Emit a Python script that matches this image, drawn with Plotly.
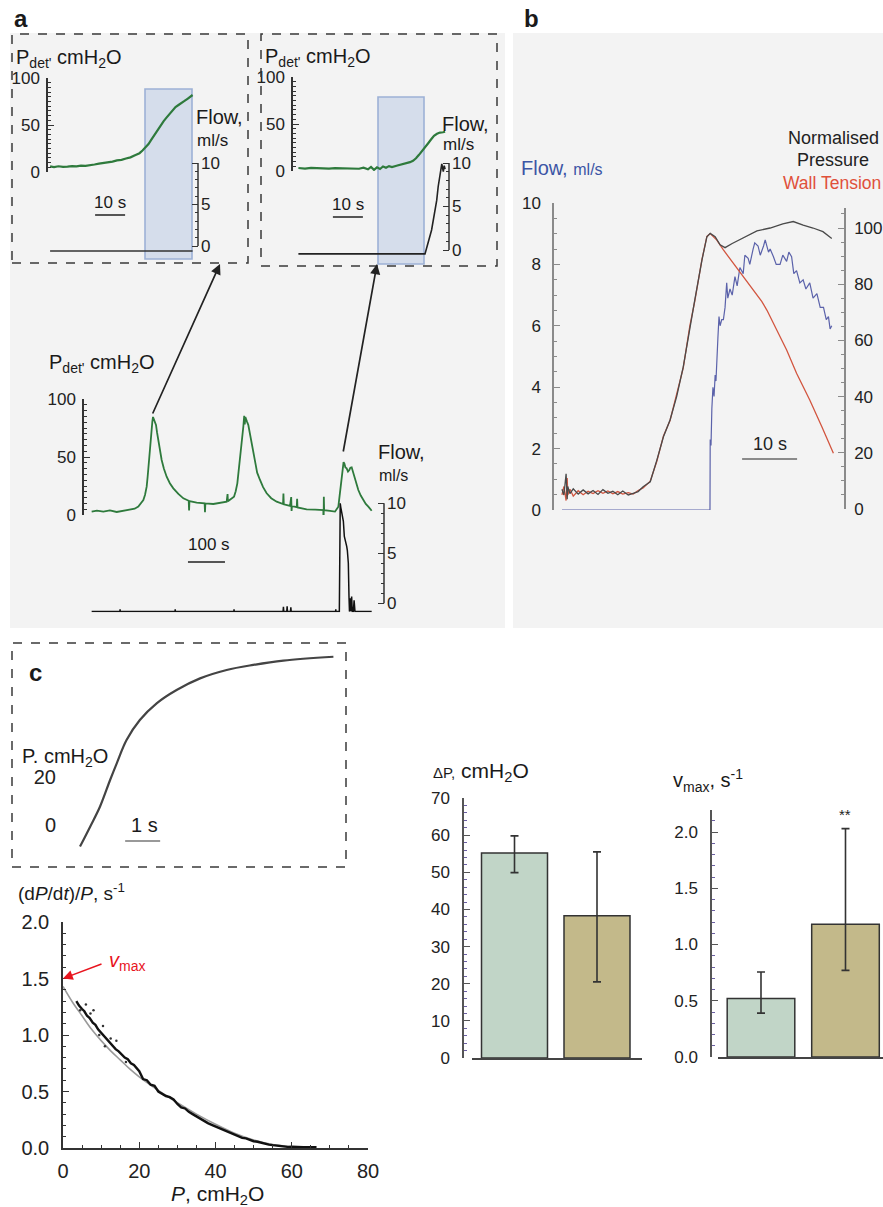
import plotly.graph_objects as go

# ======================= DATA =======================
# (a) inset 1: detrusor pressure (cmH2O) and flow (ml/s) vs time (s)
a1_time = [0.7, 2, 3.5, 5, 6.5, 8, 9.5, 11, 12.5, 14, 15.5, 17, 18.5, 20, 21.5, 23, 24.5, 26, 27.5, 29,
           30.5, 31.5, 32.5, 33.5, 34.5, 35.5, 36.5, 37.5, 38.5, 39.5, 40.5, 41.5, 42.5, 43.5, 44.5, 45.5,
           46.5, 47.5, 48.2]
a1_pdet = [5.9, 5.2, 6.1, 5.5, 5.8, 6.3, 5.9, 6.8, 6.5, 7.6, 8.0, 8.9, 9.4, 10.6, 11.0, 12.4, 12.9, 14.3,
           15.6, 17.8, 20.0, 22.8, 25.9, 29.8, 34.6, 39.5, 44.6, 49.0, 53.9, 57.8, 61.9, 65.2, 69.1, 71.3,
           73.9, 75.6, 77.9, 80.2, 81.9]
a1_flow_time = [0.7, 48.2]
a1_flow = [-0.6, -0.6]

# (a) inset 2
a2_time = [1.8, 4, 6, 8, 10, 12, 14, 16, 18, 20, 22, 23.5, 25, 26, 27, 28, 29, 30, 31, 32,
           33, 34.5, 36, 37.5, 39, 40, 41, 42, 43, 44, 45, 46, 47, 48, 49, 50, 50.7]
a2_pdet = [3.2, 2.6, 3.3, 2.9, 3.0, 2.5, 3.1, 2.8, 3.3, 2.7, 2.4, 3.6, 1.8, 4.3, 1.2, 3.9, 2.1, 4.8, 3.4, 5.2,
           4.1, 5.6, 6.9, 7.8, 9.4, 10.9, 13.5, 17.2, 21.0, 24.6, 29.3, 33.5, 37.4, 39.6, 40.9, 41.2, 41.8]
a2_flow_time = [1.8, 44, 46.2, 47.9, 48.4, 49, 49.6, 50.1, 50.4, 50.7]
a2_flow = [-0.45, -0.45, 2.3, 5.7, 7.3, 8.8, 9.9, 9.0, 9.7, 9.3]

# (a) main trace
am_time = [20.7, 35, 52.3, 70, 88.3, 105, 124.3, 137, 146.8, 154, 160.4, 165, 169.4, 172, 174.8, 177.5,
           180.2, 182.5, 184.7, 186.5, 189.2, 191.5, 194.6, 197.5, 200.9, 205, 209.9, 216, 223.4, 232,
           241.4, 255, 268.5, 283, 284, 285, 304.5, 326, 327, 328, 349.5, 368, 385.6, 388, 389, 405.4,
           410, 414.4, 419, 423.4, 427, 430.6, 433, 434.5, 436, 437.8, 440.5, 444.1, 447.5, 451.4, 456,
           462.2, 468, 475.7, 484, 493.7, 506, 520.7, 538, 539, 540, 556.8, 560, 561, 562, 575, 576, 577,
           601.8, 625, 646.8, 647.5, 648.2, 649, 665, 678.4, 687.4, 690.5, 693.7, 696.5, 699.1, 701.5,
           703.6, 706.5, 709.9, 713.5, 717.1, 720, 723.4, 726.5, 729.7, 735, 741.4, 748, 755, 761.5,
           768.5, 773, 777.5]
am_pdet = [2.9, 3.8, 3.0, 3.9, 2.6, 3.6, 4.3, 5.4, 7.2, 9.8, 12.9, 17.5, 24.4, 33, 44.5, 56,
           67.5, 75, 80.5, 84.5, 82.3, 81.5, 77.6, 71, 64.7, 55.8, 47.4, 39.8, 33, 27.4,
           23, 18.2, 14.4, 12.3, 4.0, 12.0, 10.6, 10.1, 2.5, 10.0, 9.5, 10.2, 11.5, 18, 11.8, 15.8,
           20.5, 27.3, 40, 56, 67, 76.1, 85.5, 78, 84.5, 81.9, 80.5, 77.6, 71.5, 64.7, 54.5,
           44.5, 36.5, 30.2, 24.0, 18.7, 14.5, 11.5, 9.5, 18.5, 9.2, 7.8, 15.5, 3.5, 7.6, 6.8, 14.0, 6.5,
           4.9, 4.6, 4.3, -13, 15.8, 4.2, 3.5, 2.9, 7.2, 15, 24.4, 34, 41.7, 45.5,
           44.5, 41.0, 40.2, 37.5, 38.8, 40.8, 41.1, 37.5, 33, 27.5, 21.5, 16.8, 12.9, 9.5,
           7.2, 5.2, 3.7]
am_flow_time = [20.7, 97, 97.5, 98, 246, 246.5, 247, 405, 405.5, 406, 538, 539, 540, 548, 549, 550, 558, 559,
                560, 680, 680.5, 681, 690.1, 690.6, 691.5, 692.5, 694, 696, 699.1, 701, 703.6, 706, 708.1,
                710, 711.7, 713, 714.4, 716.2, 717.5, 718.9, 720, 721, 723.4, 725, 727.9, 730, 732.4,
                736.9, 745.9, 777.5]
am_flow = [-0.83, -0.83, -0.6, -0.83, -0.83, -0.6, -0.83, -0.83, -0.6, -0.83, -0.83, -0.35, -0.83, -0.83, -0.3,
           -0.83, -0.83, -0.4, -0.83, -0.83, -0.6, -0.83, -0.83, 3.0, 3.0, 10.0, 9.6, 9.1, 8.7, 8.2, 6.7, 6.4,
           6.0, 5.7, 5.3, 4.8, 4.0, 0.67, -0.83, -0.5, 0.5, -0.8, 0.67, -0.83, -0.83, 0.3, -0.83,
           -0.83, -0.83, -0.83]

# (b) normalised pressure, wall tension (%), flow (ml/s) vs time (s)
b_time = [1.45, 1.8, 2.2, 2.4, 2.5, 2.9, 3.5, 4.4, 5.3, 6.2, 7.1, 8.0, 8.9, 9.8, 10.7, 11.6, 12.5, 13.5,
          14.4, 15.3, 16.2, 17.5, 18.7, 19.9, 21.1, 22.3, 23.5, 24.7, 25.6, 26.9, 27.8, 28.4]
b_press_rise = [7, 5, 12.5, 3.5, 8, 5.5, 7.2, 5.3, 6.8, 5.4, 6.6, 5.2, 6.9, 5.6, 6.3, 5.1, 6.4, 5.0,
                5.6, 6.2, 7.9, 9.7, 17.4, 25.7, 31.7, 40, 50.6, 64.9, 74.4, 88.6, 96.9, 98.1]
b_wall_rise = [5, 8, 3, 11, 5, 7, 4.6, 6.5, 5.1, 6.3, 5.5, 6.5, 5.6, 6.4, 5.4, 6.2, 5.3, 5.8,
               5.3, 6.6, 7.5, 9.9, 17, 26, 31.5, 40.5, 50.2, 65.2, 74, 88.8, 97, 98]
b_press_time2 = [29.3, 30.2, 31.1, 32.4, 34.4, 35.6, 36.9, 39.3, 41.6, 43.5, 45.3, 47.1, 48.9, 50.5]
b_press_fall = [96.9, 94, 93, 94.5, 96.5, 97.5, 99, 100, 101.5, 102.3, 101, 100, 98.7, 96.3]
b_wall_time2 = [29.6, 30.8, 32.6, 34.4, 36.2, 37.8, 38.7, 40.5, 42.3, 44.1, 46.5, 48.7, 50.8]
b_wall_fall = [95.7, 92.2, 87.4, 82.7, 77.9, 73.8, 70.8, 63.7, 56.6, 48.3, 38.8, 29.3, 19.8]
b_flow_time = [1.45, 28.36, 28.4, 28.55, 28.7, 28.9, 29.1, 29.3, 29.45, 29.6, 29.8, 30.0, 30.2, 30.5, 30.8,
               31.1, 31.4, 31.6, 32.0, 32.4, 32.9, 33.3, 33.8, 34.4, 34.7, 35.3, 35.6, 36.2, 36.5, 37.1,
               37.5, 38.1, 38.4, 39.0, 39.3, 39.9, 40.4, 41.1, 41.6, 42.3, 42.7, 43.2, 43.6, 44.1, 44.7,
               45.3, 45.8, 46.5, 47.1, 47.8, 48.4, 49.0, 49.5, 49.9, 50.2, 50.5]
b_flow = [0, 0, 2.3, 2.1, 3.3, 4.0, 3.7, 4.4, 4.2, 5.1, 5.6, 6.3, 6.0, 6.2, 6.2,
          6.6, 7.4, 6.9, 7.2, 7.0, 7.6, 7.3, 7.9, 7.7, 8.3, 8.2, 8.0, 8.5, 8.7, 8.6,
          8.3, 8.6, 8.8, 8.4, 8.5, 8.25, 8.0, 8.0, 8.3, 8.1, 8.4, 8.25, 7.7, 7.8, 7.4,
          7.5, 7.2, 7.4, 6.9, 7.05, 6.6, 6.6, 6.2, 6.3, 5.9, 6.0]

# (c) inset: pressure rise (cmH2O) vs time (s)
c_time = [0, 0.29, 0.57, 0.86, 1.05, 1.33, 1.71, 2.19, 2.76, 3.43, 4.19, 4.95, 5.81, 7.24]
c_press = [-9.0, -0.7, 7.6, 18.75, 25.7, 35.4, 43.75, 50.7, 56.25, 61.1, 64.6, 66.7, 68.5, 70.1]

# (c) (dP/dt)/P vs P
c_P = [3.5, 4.2, 5.0, 5.6, 6.3, 7.0, 7.8, 8.5, 9.2, 10.0, 10.8, 11.5, 12.3, 13.0, 13.8, 14.6, 15.4, 16.2,
       17.0, 17.8, 18.6, 19.4, 20.0, 21, 22, 23, 24, 25, 26, 27, 28, 29, 30, 31, 32, 33, 34, 35, 36, 37,
       38, 39, 40, 41, 42, 43, 44, 45, 46, 47, 48, 49, 50, 51, 52, 53, 54, 55, 56, 57, 58, 59, 60, 61,
       62, 63, 64, 65, 66.5]
c_rate = [1.30, 1.26, 1.23, 1.21, 1.17, 1.15, 1.11, 1.09, 1.05, 1.02, 0.985, 0.965, 0.93, 0.91, 0.875, 0.855,
          0.83, 0.80, 0.785, 0.75, 0.735, 0.705, 0.68, 0.61, 0.60, 0.56, 0.55, 0.50, 0.48, 0.46, 0.45, 0.43,
          0.39, 0.36, 0.35, 0.32, 0.30, 0.28, 0.255, 0.24, 0.22, 0.205, 0.19, 0.175, 0.16, 0.145, 0.13,
          0.12, 0.105, 0.09, 0.085, 0.07, 0.06, 0.055, 0.045, 0.035, 0.03, 0.025, 0.02, 0.015, 0.015,
          0.01, 0.012, 0.008, 0.01, 0.006, 0.008, 0.005, 0.006]
c_out_P = [4.5, 6.0, 7.2, 8.0, 9.5, 10.5, 11.0, 12.5, 14.0, 16.5]
c_out_rate = [1.22, 1.27, 1.19, 1.22, 1.00, 1.08, 0.90, 0.97, 0.95, 0.76]
fit_P = [0, 2.5, 5, 7.5, 10, 12.5, 15, 17.5, 20, 25, 30, 35, 40, 45, 50, 55, 60, 63]
fit_rate = [1.43, 1.29, 1.17, 1.05, 0.95, 0.86, 0.78, 0.70, 0.63, 0.51, 0.40, 0.30, 0.21, 0.13, 0.07,
            0.03, 0.01, 0.0]
vmax_value = 1.5

# bar charts
groups = ["group 1", "group 2"]
dp_mean = [55.2, 38.3]
dp_err_plus = [4.6, 17.2]
dp_err_minus = [5.3, 17.8]
vmax_mean = [0.52, 1.18]
vmax_err_plus = [0.235, 0.85]
vmax_err_minus = [0.13, 0.41]
bar_colors = ["#c1d5c7", "#c3b98a"]

# scale bars (start, length) in seconds
sb_a1 = (15.7, 10)
sb_a2 = (13.3, 10)
sb_am = (281, 100)
sb_b = (34.2, 10)
sb_c = (1.29, 1)

# ======================= LAYOUT HELPERS =======================
W, H = 883, 1207
FONT = "Liberation Sans, Arial, Helvetica, sans-serif"


def fx(px):
    return px / W


def fy(py):
    return 1 - py / H


def lin(v0, p0, v1, p1, lo, hi, vertical):
    s = (p1 - p0) / (v1 - v0)
    plo = p0 + (lo - v0) * s
    phi = p0 + (hi - v0) * s
    if vertical:
        return dict(domain=[fy(plo), fy(phi)], range=[lo, hi])
    return dict(domain=[fx(plo), fx(phi)], range=[lo, hi])


HID = dict(visible=False, showgrid=False, zeroline=False, fixedrange=True, automargin=False)


def vis(size=17, lc="#333", **kw):
    d = dict(visible=True, showgrid=False, zeroline=False, showline=True, linecolor=lc, linewidth=1.5,
             ticks="inside", ticklen=6, tickwidth=1.3, tickcolor=lc, automargin=False,
             tickfont=dict(family=FONT, size=size, color="#222"), fixedrange=True)
    d.update(kw)
    return d


def minor(dt, color="#333", ln=3):
    return dict(ticks="inside", ticklen=ln, dtick=dt, tickcolor=color, showgrid=False)


L = dict(template="none", width=W, height=H, autosize=False, margin=dict(l=0, r=0, t=0, b=0, pad=0),
         paper_bgcolor="white", plot_bgcolor="rgba(0,0,0,0)", showlegend=False,
         font=dict(family=FONT, color="#1a1a1a", size=16))

FLOW_RANGE = (-0.9, 10.3)

# panel a inset 1
L["xaxis"] = {**lin(0, 48, 10, 78, 0, 50, False), **HID}
L["yaxis"] = {**lin(0, 172, 100, 78, 0, 100, True),
              **vis(anchor="x", side="left", dtick=50, tick0=0, minor=minor(5), ticklabelstandoff=3)}
L["yaxis2"] = {**lin(0, 246, 10, 163, *FLOW_RANGE, True),
               **vis(anchor="x", side="right", dtick=5, tick0=0, minor=minor(1), ticklabelstandoff=2,
                     showline=False)}
# panel a inset 2
L["xaxis2"] = {**lin(0, 293, 10, 323, 0, 52, False), **HID}
L["yaxis4"] = {**lin(0, 171, 100, 77, 0, 100, True),
               **vis(anchor="x2", side="left", dtick=50, tick0=0, minor=minor(5), ticklabelstandoff=3)}
L["yaxis5"] = {**lin(0, 250, 10, 163, *FLOW_RANGE, True),
               **vis(anchor="x2", side="right", dtick=5, tick0=0, minor=minor(1), ticklabelstandoff=2,
                     showline=False)}
# panel a main
L["xaxis3"] = {**lin(0, 84, 100, 121, 0, 810.8, False), **HID}
L["yaxis7"] = {**lin(0, 515, 100, 399, 0, 100, True),
               **vis(anchor="x3", side="left", dtick=50, tick0=0, minor=minor(5), ticklabelstandoff=3)}
L["yaxis8"] = {**lin(0, 603.3, 10, 503.3, *FLOW_RANGE, True),
               **vis(anchor="x3", side="right", dtick=5, tick0=0, minor=minor(1), ticklabelstandoff=2,
                     showline=False)}
# panel b
L["xaxis4"] = {**lin(0, 554, 10, 609, 0, 52.73, False), **HID}
L["yaxis10"] = {**lin(0, 510, 10, 203, 0, 10, True),
                **vis(size=17, lc="#8a8a8a", anchor="x4", side="left", dtick=2, tick0=0,
                      minor=minor(0.5, "#8a8a8a"), ticklabelstandoff=8)}
L["yaxis11"] = {**lin(0, 509, 100, 228, 0, 107, True),
                **vis(size=17, lc="#8a8a8a", anchor="x4", side="right", dtick=20, tick0=0,
                      minor=minor(5, "#8a8a8a"), ticklabelstandoff=5)}
# panel c inset
L["xaxis5"] = {**lin(0, 80, 1, 115, -0.6, 7.6, False), **HID}
L["yaxis12"] = {**lin(0, 825, 20, 777, -12, 75, True),
                **vis(size=20, anchor="x5", side="left", showline=False, ticks="", tickvals=[0, 20],
                      ticklabelstandoff=2)}
# panel c (dP/dt)/P
L["xaxis6"] = {**lin(0, 63, 80, 368, 0, 80, False),
               **vis(size=20, anchor="y13", dtick=20, tick0=0, minor=minor(5), ticklabelstandoff=4)}
L["yaxis13"] = {**lin(0, 1148, 2, 922, 0, 2, True),
                **vis(size=20, anchor="x6", dtick=0.5, tick0=0, tickformat=".1f", minor=minor(0.1),
                      ticklabelstandoff=8)}
# bar chart 1
L["xaxis7"] = {**lin(0, 514.5, 1, 597, -0.515, 1.545, False),
               **vis(anchor="y14", ticks="", showticklabels=False, type="category", lc="#444")}
L["yaxis14"] = {**lin(0, 1058, 70, 798, 0, 70, True),
                **vis(size=17, lc="#555", anchor="free", position=fx(463), dtick=10, tick0=0,
                      minor=minor(2, "#6b5fa3", 3), ticklabelstandoff=9)}
# bar chart 2
L["xaxis8"] = {**lin(0, 761, 1, 845.5, -0.51, 1.44, False),
               **vis(anchor="y15", ticks="", showticklabels=False, type="category", lc="#444")}
L["yaxis15"] = {**lin(0, 1057, 2, 832, 0, 2.2, True),
                **vis(size=17, lc="#555", anchor="free", position=fx(711), dtick=0.5, tick0=0,
                      tickformat=".1f", minor=minor(0.1, "#6b5fa3", 3), ticklabelstandoff=9)}

# ======================= TRACES =======================
GREEN = "#2e7a3c"


def line(x, y, xa, ya, color, width, shape="linear"):
    return go.Scatter(x=x, y=y, xaxis=xa, yaxis=ya, mode="lines",
                      line=dict(color=color, width=width, shape=shape),
                      hoverinfo="skip", showlegend=False)


traces = [
    line(a1_time, a1_pdet, "x", "y", GREEN, 2.2),
    line(a1_flow_time, a1_flow, "x", "y2", "#333", 1.6),
    line(a2_time, a2_pdet, "x2", "y4", GREEN, 2.2),
    line(a2_flow_time, a2_flow, "x2", "y5", "#222", 1.6),
    line(am_time, am_pdet, "x3", "y7", GREEN, 1.8),
    line(am_flow_time, am_flow, "x3", "y8", "#111", 1.5),
    line(b_flow_time, b_flow, "x4", "y10", "#5b62aa", 1.2),
    line(b_time + b_wall_time2, b_wall_rise + b_wall_fall, "x4", "y11", "#d2553f", 1.3),
    line(b_time + b_press_time2, b_press_rise + b_press_fall, "x4", "y11", "#4a4a4a", 1.3),
    line(c_time, c_press, "x5", "y12", "#444", 2.2, "spline"),
    line(fit_P, fit_rate, "x6", "y13", "#9a9a9a", 1.6, "spline"),
    line(c_P, c_rate, "x6", "y13", "#111", 2.4),
    go.Scatter(x=c_out_P, y=c_out_rate, xaxis="x6", yaxis="y13", mode="markers",
               marker=dict(color="#333", size=2.5), hoverinfo="skip", showlegend=False),
    go.Bar(x=groups, y=dp_mean, xaxis="x7", yaxis="y14", width=0.8,
           marker=dict(color=bar_colors, line=dict(color="#333", width=1.5)),
           error_y=dict(type="data", symmetric=False, array=dp_err_plus, arrayminus=dp_err_minus,
                        color="#333", thickness=1.6, width=4), hoverinfo="skip", showlegend=False),
    go.Bar(x=groups, y=vmax_mean, xaxis="x8", yaxis="y15", width=0.8,
           marker=dict(color=bar_colors, line=dict(color="#333", width=1.5)),
           error_y=dict(type="data", symmetric=False, array=vmax_err_plus, arrayminus=vmax_err_minus,
                        color="#333", thickness=1.6, width=4), hoverinfo="skip", showlegend=False),
]

# ======================= SHAPES =======================
shapes = []


def prect(x0, y0, x1, y1, fill, lc=None, lw=0, dash=None, layer="below"):
    ln = dict(width=lw)
    if lc:
        ln["color"] = lc
    if dash:
        ln["dash"] = dash
    shapes.append(dict(type="rect", xref="paper", yref="paper", x0=fx(x0), x1=fx(x1), y0=fy(y1), y1=fy(y0),
                       fillcolor=fill, line=ln, layer=layer))


prect(10, 33, 505, 628, "#f3f3f3")
prect(513, 33, 883, 628, "#f3f3f3")
prect(145, 89, 192, 259, "rgba(178,196,226,0.45)", "#9db1d6", 1.6)
prect(378, 97, 424, 264, "rgba(178,196,226,0.45)", "#9db1d6", 1.6)
prect(12, 34, 248, 263, "rgba(0,0,0,0)", "#3a3a3a", 1.5, "dash", "above")
prect(261, 34, 497, 266, "rgba(0,0,0,0)", "#3a3a3a", 1.5, "dash", "above")
prect(12, 643, 346, 867, "rgba(0,0,0,0)", "#3a3a3a", 1.5, "dash", "above")

# flow axis lines spanning only 0..10 ml/s
for xa, ya in (("x", "y2"), ("x2", "y5"), ("x3", "y8")):
    shapes.append(dict(type="line", xref=xa + " domain", yref=ya, x0=1, x1=1, y0=0, y1=10,
                       line=dict(color="#333", width=1.5)))


def scalebar(xa, sb, ypx, color="#555"):
    shapes.append(dict(type="line", xref=xa, yref="paper", x0=sb[0], x1=sb[0] + sb[1],
                       y0=fy(ypx), y1=fy(ypx), line=dict(color=color, width=2)))


scalebar("x", sb_a1, 215)
scalebar("x2", sb_a2, 217)
scalebar("x3", sb_am, 562)
scalebar("x4", sb_b, 459, "#8a8a8a")
scalebar("x5", sb_c, 841, "#999")

# ======================= ANNOTATIONS =======================
ann = []


def label(x, y, text, size, color="#1a1a1a", xanchor="left"):
    ann.append(dict(x=fx(x), y=fy(y), xref="paper", yref="paper", text=text, showarrow=False,
                    xanchor=xanchor, yanchor="middle", font=dict(family=FONT, size=size, color=color)))


PDET = "P<sub>det'</sub> cmH<sub>2</sub>O"
label(12, 19, "<b>a</b>", 24)
label(522, 19, "<b>b</b>", 24)
label(27, 672, "<b>c</b>", 24)

label(14, 58, PDET, 20)
label(194, 117, "Flow,", 20)
label(195, 140, "ml/s", 17)
label(110, 202, "10 s", 17, xanchor="center")

label(263, 57, PDET, 20)
label(440, 124, "Flow,", 20)
label(441, 144, "ml/s", 17)
label(348, 204, "10 s", 17, xanchor="center")

label(47, 363, PDET, 20)
label(376, 452, "Flow,", 20)
label(377, 475, "ml/s", 16)
label(209, 545, "100 s", 17, xanchor="center")

label(519, 168, "Flow, <span style='font-size:16px'>ml/s</span>", 20, "#3c55a5")
label(833, 138, "Normalised", 18, "#222", "center")
label(833, 160, "Pressure", 18, "#222", "center")
label(781, 183, "Wall Tension", 17.5, "#e0503a")
label(770, 444, "10 s", 18, "#222", "center")

label(20, 757, "P. cmH<sub>2</sub>O", 20)
label(144, 825, "1 s", 20, xanchor="center")

label(16, 892, "(d<i>P</i>/d<i>t</i>)/<i>P</i>, s<sup>-1</sup>", 19)
label(217, 1195, "<i>P</i>, cmH<sub>2</sub>O", 21, xanchor="center")
label(107, 961, "<i>v</i><sub>max</sub>", 20, "#e8141e")

label(431, 772, "<span style='font-size:15px'>\u0394P,</span> cmH<sub>2</sub>O", 21)
label(671, 780, "v<sub>max</sub>, s<sup>-1</sup>", 20)

ann.append(dict(x=groups[1], y=vmax_mean[1] + vmax_err_plus[1], xref="x8", yref="y15", text="**",
                showarrow=False, yshift=14, font=dict(family=FONT, size=15, color="#222")))

# arrows from main trace peaks to insets
ann.append(dict(x=fx(220), y=fy(264), xref="paper", yref="paper", text="", showarrow=True,
                ax=-68, ay=151, arrowhead=2, arrowsize=1.2, arrowwidth=1.7, arrowcolor="#222"))
ann.append(dict(x=fx(377), y=fy(264), xref="paper", yref="paper", text="", showarrow=True,
                ax=-34, ay=189, arrowhead=2, arrowsize=1.2, arrowwidth=1.7, arrowcolor="#222"))
# v_max arrow
ann.append(dict(x=0, y=vmax_value, xref="x6", yref="y13", text="", showarrow=True,
                ax=40, ay=-15, arrowhead=2, arrowsize=1.3, arrowwidth=1.5, arrowcolor="#e8141e",
                standoff=0))

L["shapes"] = shapes
L["annotations"] = ann

fig = go.Figure(data=traces, layout=L)
fig.write_html("out.html", config={"displayModeBar": False},
               post_script="document.body.style.margin='0';document.body.style.padding='0';"
                           "document.body.style.overflow='hidden';")
